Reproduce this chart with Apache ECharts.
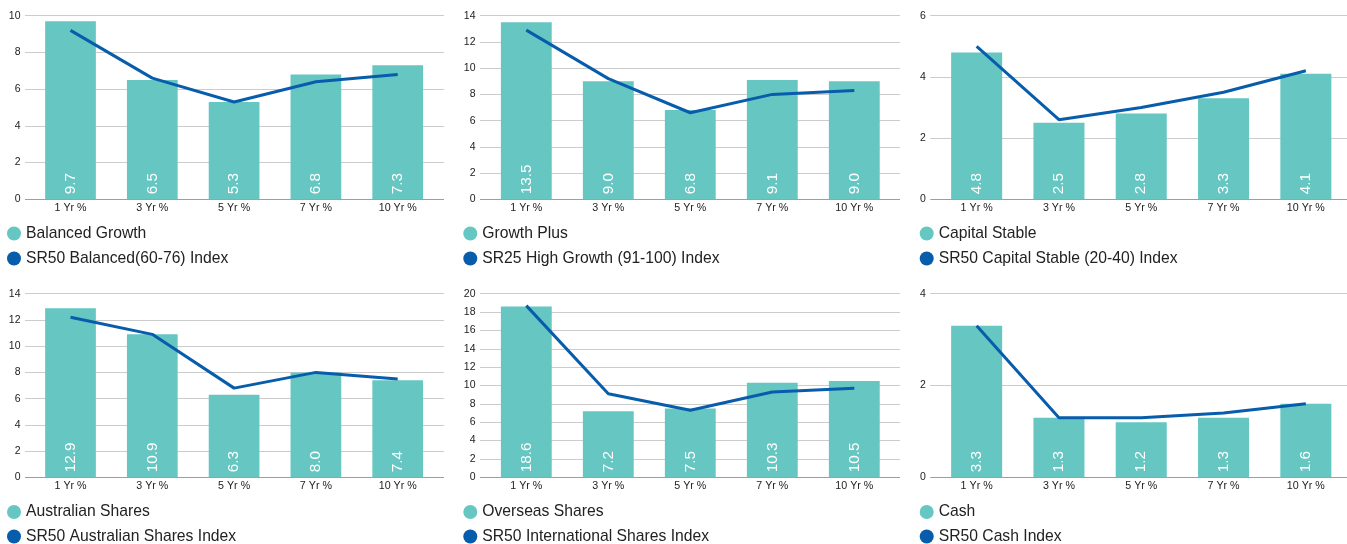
<!DOCTYPE html>
<html>
<head>
<meta charset="utf-8">
<script src="https://cdn.jsdelivr.net/npm/echarts@6/dist/echarts.min.js"></script>
<style>html,body{margin:0;padding:0;background:#fff;}#c{width:1347px;height:544px;}</style>
</head>
<body>
<div id="c"></div>
<script>
const categories = ['1 Yr %', '3 Yr %', '5 Yr %', '7 Yr %', '10 Yr %'];

const fundNames = ['Balanced Growth', 'Growth Plus', 'Capital Stable', 'Australian Shares', 'Overseas Shares', 'Cash'];
const indexNames = ['SR50 Balanced(60-76) Index', 'SR25 High Growth (91-100) Index', 'SR50 Capital Stable (20-40) Index', 'SR50 Australian Shares Index', 'SR50 International Shares Index', 'SR50 Cash Index'];

const balancedGrowth = [9.7, 6.5, 5.3, 6.8, 7.3];
const balancedIndex = [9.2, 6.6, 5.3, 6.4, 6.8];
const growthPlus = [13.5, 9.0, 6.8, 9.1, 9.0];
const growthIndex = [12.9, 9.2, 6.6, 8.0, 8.3];
const capitalStable = [4.8, 2.5, 2.8, 3.3, 4.1];
const capitalIndex = [5.0, 2.6, 3.0, 3.5, 4.2];
const australianShares = [12.9, 10.9, 6.3, 8.0, 7.4];
const australianIndex = [12.2, 10.9, 6.8, 8.0, 7.5];
const overseasShares = [18.6, 7.2, 7.5, 10.3, 10.5];
const internationalIndex = [18.7, 9.1, 7.3, 9.3, 9.7];
const cash = [3.3, 1.3, 1.2, 1.3, 1.6];
const cashIndex = [3.3, 1.3, 1.3, 1.4, 1.6];

const yMaxes = [10, 14, 6, 14, 20, 4];
const yInterval = 2;

const fundValues = [balancedGrowth, growthPlus, capitalStable, australianShares, overseasShares, cash];
const indexValues = [balancedIndex, growthIndex, capitalIndex, australianIndex, internationalIndex, cashIndex];

// layout (pixels)
const cols = [
  { plotLeft: 29.6, plotWidth: 409, lineLeft: 25, lineRight: 444, legendLeft: 7 },
  { plotLeft: 485.3, plotWidth: 410, lineLeft: 480, lineRight: 900, legendLeft: 463.3 },
  { plotLeft: 935.5, plotWidth: 415.6, lineLeft: 930.3, lineRight: 1352, legendLeft: 919.7 }
];
const rows = [
  { top: 15.7, legendCenters: [233.5, 258.5] },
  { top: 293.7, legendCenters: [512, 536.5] }
];
const plotHeight = 183.6;
const FONT = '"Liberation Sans", Arial, Helvetica, sans-serif';
const BAR = '#66C6C2';
const LINE = '#075DAB';

const grid = [], xAxis = [], yAxis = [], series = [], legend = [];
for (let i = 0; i < 6; i++) {
  const c = cols[i % 3], r = rows[Math.floor(i / 3)];
  const gWide = grid.length;
  grid.push({ left: c.lineLeft, top: r.top, width: c.lineRight - c.lineLeft, height: plotHeight, containLabel: false });
  const gNarrow = grid.length;
  grid.push({ left: c.plotLeft, top: r.top, width: c.plotWidth, height: plotHeight, containLabel: false });

  const splitColors = [];
  for (let k = 0; k <= yMaxes[i] / yInterval; k++) splitColors.push(k === 0 ? '#9e9e9e' : '#cccccc');

  xAxis.push({ type: 'value', gridIndex: gWide, show: false, min: 0, max: 1 });
  yAxis.push({
    type: 'value', gridIndex: gWide, min: 0, max: yMaxes[i], interval: yInterval,
    axisLine: { show: false }, axisTick: { show: false },
    splitLine: { show: true, lineStyle: { color: splitColors, width: 1 } },
    axisLabel: { margin: 4.5, color: '#222', fontSize: 10.5, fontFamily: FONT }
  });

  const xN = xAxis.length;
  xAxis.push({
    type: 'category', gridIndex: gNarrow, data: categories, boundaryGap: true,
    axisLine: { show: false }, axisTick: { show: false }, splitLine: { show: false },
    axisLabel: { margin: 3, color: '#222', fontSize: 10.7, fontFamily: FONT, interval: 0 }
  });
  const yN = yAxis.length;
  yAxis.push({ type: 'value', gridIndex: gNarrow, min: 0, max: yMaxes[i], interval: yInterval, show: false, splitLine: { show: false } });

  series.push({
    name: fundNames[i], type: 'bar', xAxisIndex: xN, yAxisIndex: yN,
    data: fundValues[i], barWidth: '62%',
    itemStyle: { color: BAR },
    label: {
      show: true, position: 'insideBottom', distance: 5, rotate: 90,
      align: 'left', verticalAlign: 'middle',
      color: '#ffffff', fontSize: 15.3, fontFamily: FONT,
      formatter: p => Number(p.value).toFixed(1)
    },
    z: 2
  });
  series.push({
    name: indexNames[i], type: 'line', xAxisIndex: xN, yAxisIndex: yN,
    data: indexValues[i], showSymbol: false, symbol: 'none',
    lineStyle: { color: LINE, width: 3 }, itemStyle: { color: LINE },
    z: 3
  });

  [fundNames[i], indexNames[i]].forEach((nm, k) => {
    legend.push({
      data: [nm], orient: 'horizontal',
      left: c.legendLeft, top: r.legendCenters[k] - 8, icon: 'circle',
      itemWidth: 14, itemHeight: 14, padding: 0,
      textStyle: { fontSize: 15.7, lineHeight: 16, color: '#222', fontFamily: FONT },
      selectedMode: false
    });
  });
}

const chart = echarts.init(document.getElementById('c'), null, { renderer: 'canvas' });
chart.setOption({
  animation: false,
  backgroundColor: '#ffffff',
  grid, xAxis, yAxis, series, legend
});
</script>
</body>
</html>
